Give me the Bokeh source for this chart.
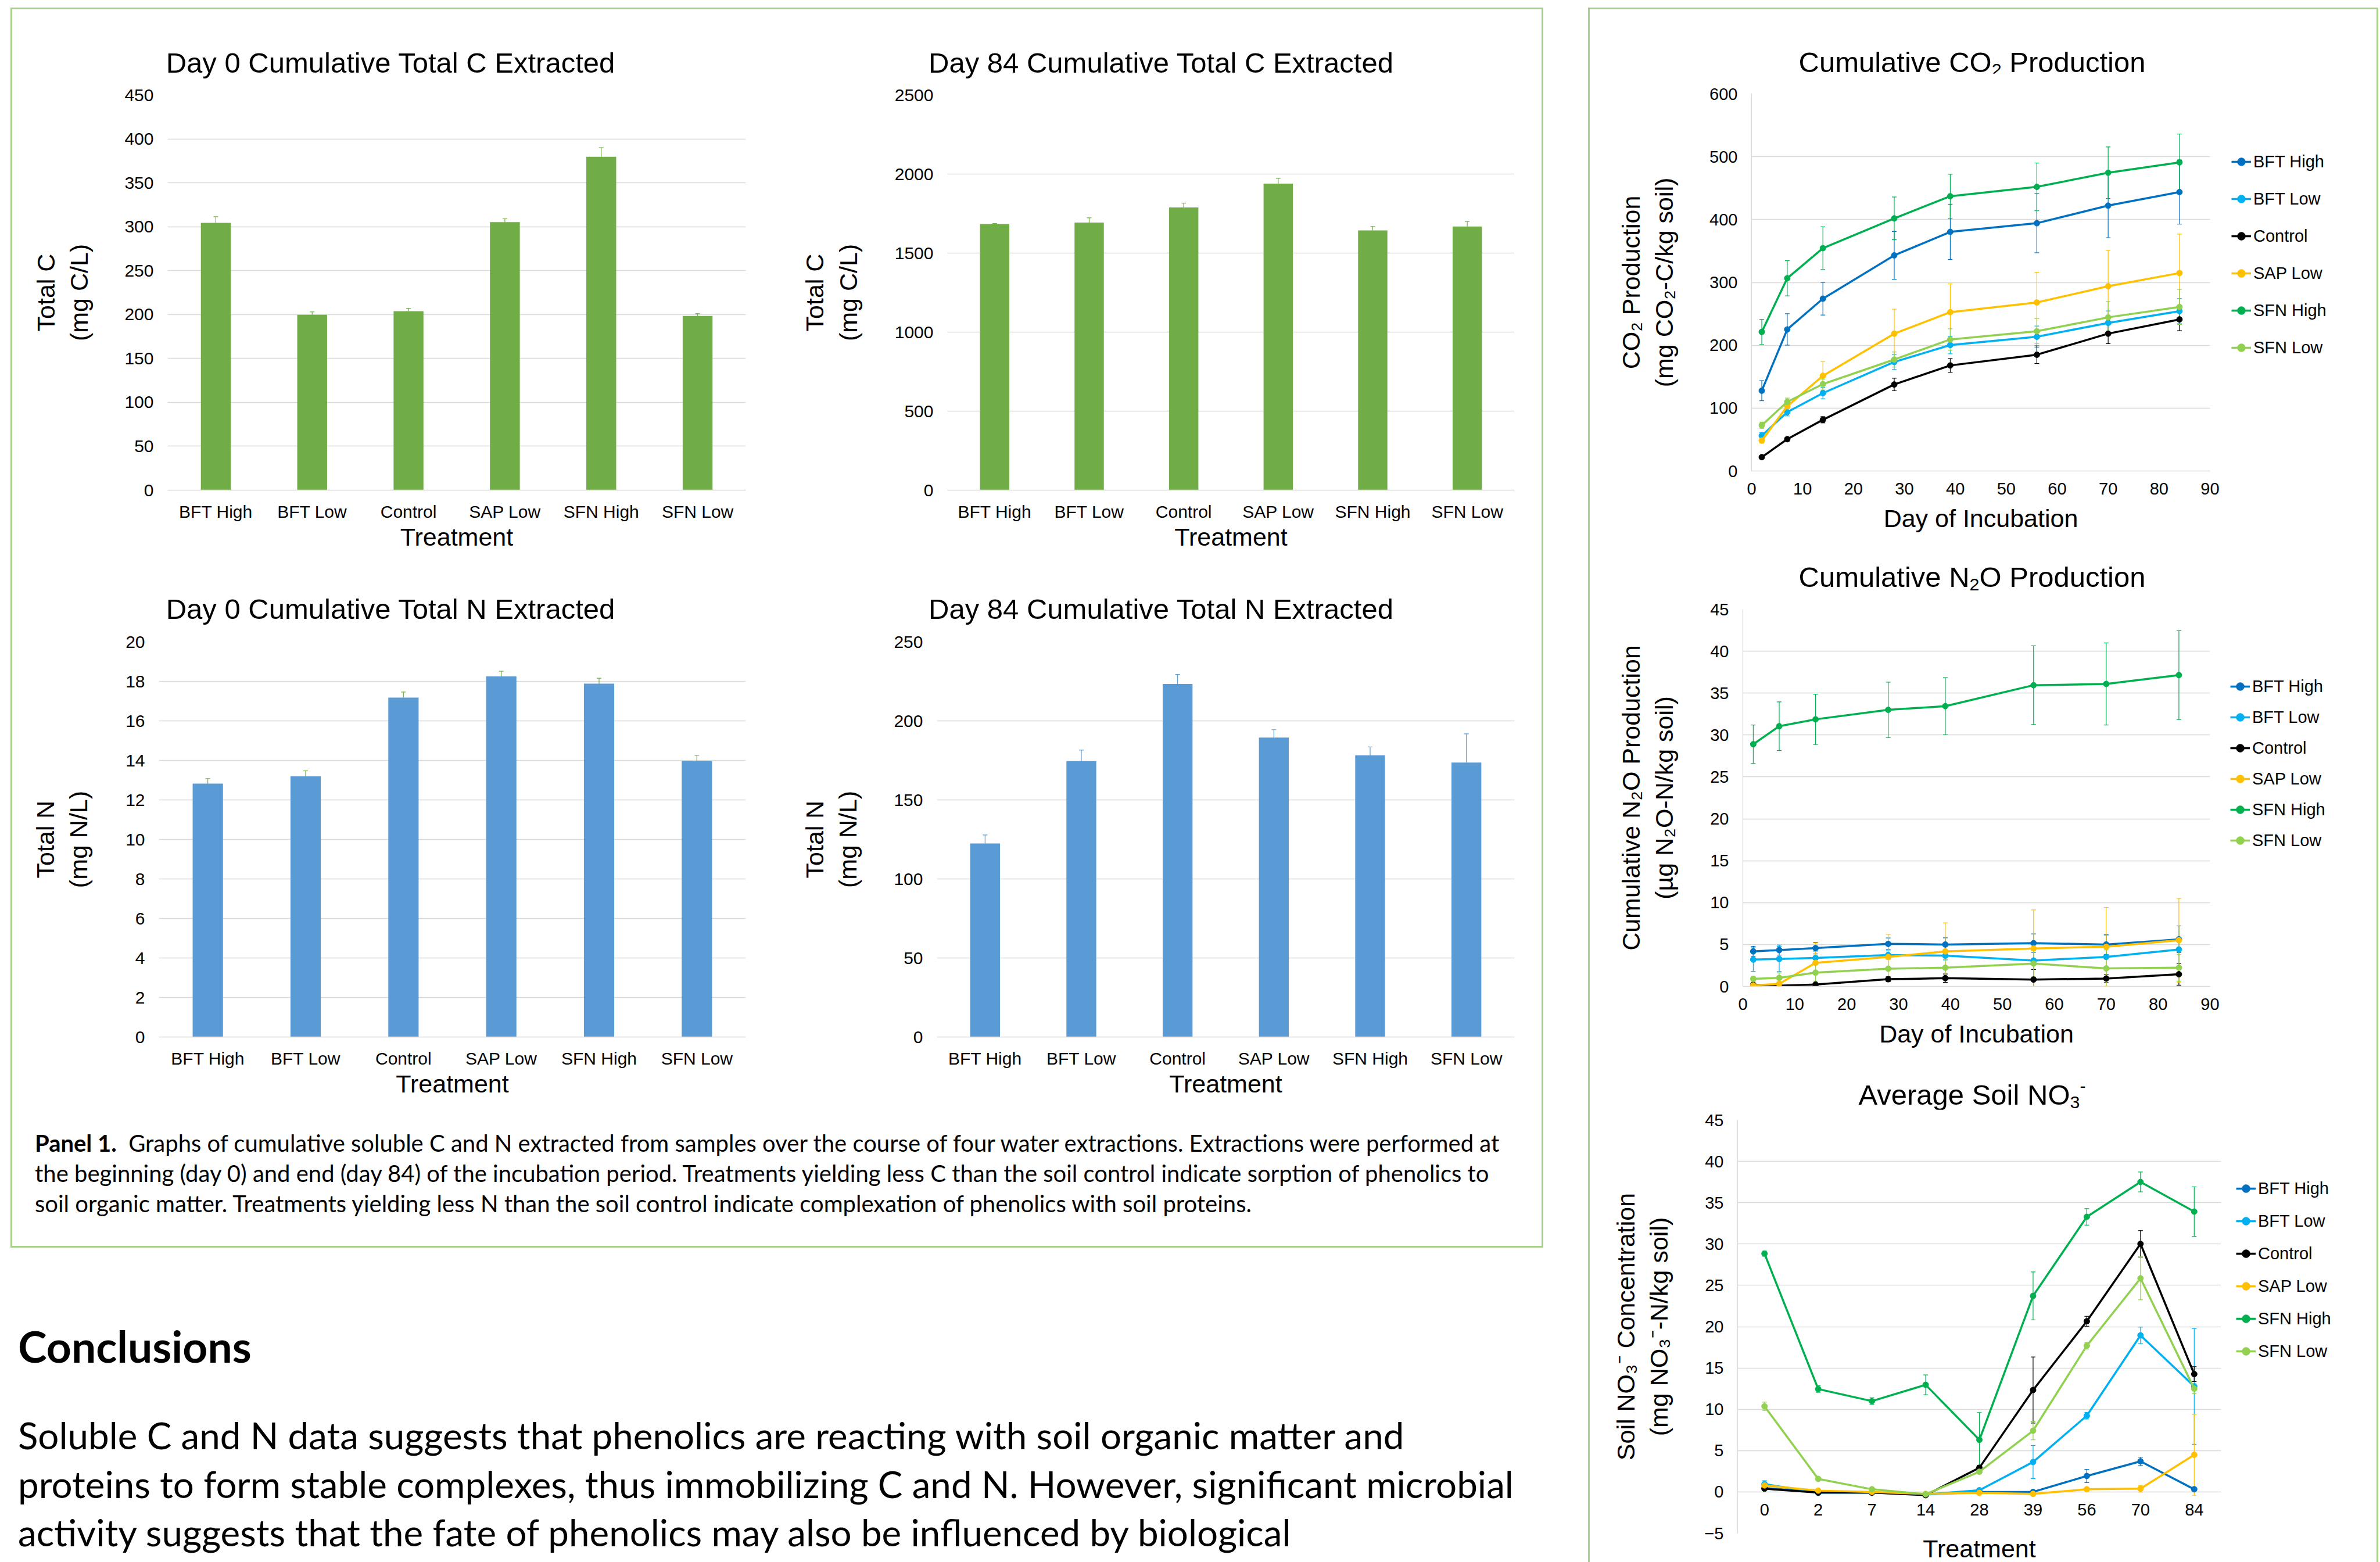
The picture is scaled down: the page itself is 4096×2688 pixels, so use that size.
from bokeh.plotting import figure
from bokeh.models import (ColumnDataSource, Whisker, TeeHead, Legend, LegendItem, Title,
                          FactorRange, Range1d, Div, Spacer, FixedTicker)
from bokeh.layouts import row, column
from bokeh.embed import file_html
from bokeh.resources import INLINE

# ---------------- data ----------------
treatments = ["BFT High", "BFT Low", "Control", "SAP Low", "SFN High", "SFN Low"]

c_day0 = [304.4, 199.7, 203.8, 305.2, 379.7, 198.4]
c_day0_err = [7.0, 3.3, 3.2, 3.8, 10.3, 2.6]
c_day84 = [1684, 1693, 1789, 1939, 1643, 1668]
c_day84_err = [3, 30, 27, 34, 25, 32]
n_day0 = [12.82, 13.19, 17.18, 18.25, 17.88, 13.96]
n_day0_err = [0.26, 0.28, 0.28, 0.26, 0.28, 0.30]
n_day84 = [122.4, 174.5, 223.3, 189.4, 178.2, 173.6]
n_day84_err = [5.4, 7.0, 6.1, 5.0, 5.3, 18.2]

series_names = ["BFT High", "BFT Low", "Control", "SAP Low", "SFN High", "SFN Low"]
series_colors = ["#0070c0", "#00b0f0", "#000000", "#ffc000", "#00b050", "#92d050"]

days = [2, 7, 14, 28, 39, 56, 70, 84]

co2_bft_high = [127.7, 225.2, 274.1, 343.0, 380.4, 394.2, 422.2, 443.7]
co2_bft_high_err = [16, 25, 26, 38, 44, 47, 51, 51]
co2_bft_low = [56.2, 93.6, 123.9, 173.4, 200.4, 213.6, 235.6, 254.3]
co2_bft_low_err = [5, 6, 9, 12, 14, 17, 19, 20]
co2_control = [22.0, 50.6, 81.5, 137.6, 167.9, 185.0, 218.5, 241.1]
co2_control_err = [2, 3, 5, 10, 11, 14, 16, 18]
co2_sap_low = [48.4, 103.0, 151.4, 218.5, 252.7, 268.1, 294.0, 314.9]
co2_sap_low_err = [4, 7, 23, 39, 45, 48, 57, 62]
co2_sfn_high = [221.3, 306.6, 354.5, 401.9, 437.1, 452.0, 474.5, 491.0]
co2_sfn_high_err = [20, 28, 34, 34, 35, 38, 41, 45]
co2_sfn_low = [72.7, 110.0, 138.2, 177.3, 209.2, 222.4, 244.4, 261.0]
co2_sfn_low_err = [5, 6, 8, 12, 17, 20, 25, 28]

n2o_bft_high = [4.18, 4.34, 4.57, 5.08, 5.0, 5.16, 5.0, 5.62]
n2o_bft_high_err = [0.6, 0.6, 0.7, 0.7, 0.8, 1.1, 1.2, 1.6]
n2o_bft_low = [3.2, 3.28, 3.4, 3.75, 3.67, 3.09, 3.52, 4.41]
n2o_bft_low_err = [1.4, 1.5, 0.8, 0.5, 0.5, 2.0, 2.6, 2.8]
n2o_control = [0.2, 0.08, 0.23, 0.86, 0.98, 0.82, 0.94, 1.45]
n2o_control_err = [0.1, 0.1, 0.1, 0.3, 0.5, 1.2, 0.5, 1.3]
n2o_sap_low = [0.12, 0.31, 2.81, 3.52, 4.18, 4.53, 4.73, 5.51]
n2o_sap_low_err = [0.1, 0.2, 2.4, 2.7, 3.4, 4.6, 4.7, 5.0]
n2o_sfn_high = [28.9, 31.05, 31.87, 33.0, 33.44, 35.94, 36.09, 37.15]
n2o_sfn_high_err = [2.3, 2.9, 3.0, 3.3, 3.4, 4.7, 4.9, 5.3]
n2o_sfn_low = [0.9, 1.02, 1.64, 2.11, 2.23, 2.73, 2.15, 2.23]
n2o_sfn_low_err = [0.3, 0.6, 1.0, 1.2, 1.2, 1.6, 2.2, 1.6]

no3_days = ["0", "2", "7", "14", "28", "39", "56", "70", "84"]
no3_bft_high = [0.47, -0.05, -0.05, -0.3, 0.0, 0.0, 1.93, 3.7, 0.32]
no3_bft_high_err = [0.2, 0.1, 0.1, 0.1, 0.1, 0.1, 0.8, 0.5, 0.2]
no3_bft_low = [0.95, -0.1, -0.1, -0.3, 0.2, 3.62, 9.22, 18.95, 12.77]
no3_bft_low_err = [0.4, 0.1, 0.1, 0.1, 0.1, 2.0, 0.4, 1.0, 7.0]
no3_control = [0.39, -0.08, -0.08, -0.39, 2.92, 12.33, 20.65, 30.02, 14.26]
no3_control_err = [0.1, 0.1, 0.1, 0.1, 0.3, 4.0, 0.6, 1.6, 0.9]
no3_sap_low = [0.79, 0.16, 0.0, -0.24, -0.12, -0.24, 0.32, 0.39, 4.49]
no3_sap_low_err = [0.1, 0.1, 0.1, 0.1, 0.1, 0.1, 0.1, 0.4, 4.9]
no3_sfn_high = [28.84, 12.45, 10.99, 12.96, 6.3, 23.72, 33.29, 37.51, 33.92]
no3_sfn_high_err = [0.3, 0.4, 0.4, 1.2, 3.3, 2.9, 1.0, 1.2, 3.0]
no3_sfn_low = [10.36, 1.58, 0.32, -0.28, 2.44, 7.41, 17.69, 25.85, 12.49]
no3_sfn_low_err = [0.5, 0.1, 0.1, 0.1, 0.2, 1.1, 0.4, 2.6, 0.6]

caption_lines = [
    "Graphs of cumulative soluble C and N extracted from samples over the course of four water extractions. Extractions were performed at",
    "the beginning (day 0) and end (day 84) of the incubation period. Treatments yielding less C than the soil control indicate sorption of phenolics to",
    "soil organic matter. Treatments yielding less N than the soil control indicate complexation of phenolics with soil proteins.",
]
conclusion_lines = [
    "Soluble C and N data suggests that phenolics are reacting with soil organic matter and",
    "proteins to form stable complexes, thus immobilizing C and N. However, significant microbial",
    "activity suggests that the fate of phenolics may also be influenced by biological",
]

# ---------------- style ----------------
FONT = "Liberation Sans"
GRID = "#d9d9d9"
BOX = "#a9d18e"
SUB = '<sub style="font-size:62%;line-height:0;vertical-align:-0.22em;">{}</sub>'
SUP = '<sup style="font-size:62%;line-height:0;vertical-align:0.7em;">{}</sup>'


def title_div(html_text, w, h, cx, cy, size=49):
    return Div(text=('<div style="position:relative;width:%dpx;height:%dpx;">'
                     '<span style="position:absolute;left:%dpx;top:%dpx;transform:translate(-50%%,-50%%);'
                     'white-space:nowrap;font-family:\'Liberation Sans\',Arial,sans-serif;font-size:%dpx;'
                     'line-height:1;color:#000;">%s</span></div>') % (w, h, cx, cy, size, html_text),
               width=w, height=h, margin=0)


def base_fig(x_range, y_range, w, h, borders, ylab, ylab_standoff, xlab, xlab_standoff, tick_size):
    bl, br, bt, bb = borders
    p = figure(x_range=x_range, y_range=y_range, width=w, height=h,
               min_border_left=bl, min_border_right=br, min_border_top=bt, min_border_bottom=bb,
               output_backend="svg", toolbar_location=None)
    p.outline_line_color = None
    p.xgrid.grid_line_color = None
    p.ygrid.grid_line_color = GRID
    p.ygrid.grid_line_width = 1.3
    for ax in (p.xaxis[0], p.yaxis[0]):
        ax.major_tick_line_color = None
        ax.minor_tick_line_color = None
        ax.major_tick_out = 0
        ax.major_tick_in = 0
        ax.minor_tick_out = 0
        ax.minor_tick_in = 0
        ax.major_label_text_font = FONT
        ax.major_label_text_color = "black"
        ax.major_label_text_font_size = tick_size
        ax.axis_label_text_font = FONT
        ax.axis_label_text_font_size = "43px"
        ax.axis_label_text_font_style = "normal"
        ax.axis_label_text_color = "black"
    p.yaxis.major_label_standoff = 24
    p.xaxis.major_label_standoff = 20
    p.yaxis.axis_line_color = None
    p.xaxis.axis_line_color = GRID
    p.xaxis.axis_line_width = 1.3
    p.yaxis.axis_label = ylab
    p.yaxis.axis_label_standoff = ylab_standoff
    p.xaxis.axis_label = xlab
    p.xaxis.axis_label_standoff = xlab_standoff
    return p


def bar_chart(vals, errs, ymax, ystep, bar_color, err_color, both, w, h, borders,
              ylab, ylab_standoff):
    p = base_fig(FactorRange(factors=treatments, range_padding=0), Range1d(0, ymax), w, h, borders,
                 ylab, ylab_standoff, "Treatment", 0, "30px")
    p.yaxis.ticker = FixedTicker(ticks=list(range(0, ymax + 1, ystep)))
    src = ColumnDataSource(dict(cat=treatments, val=vals,
                                upper=[v + e for v, e in zip(vals, errs)],
                                lower=[v - e for v, e in zip(vals, errs)] if both else list(vals)))
    p.vbar(x="cat", top="val", width=0.31, source=src, fill_color=bar_color, line_color=None)
    p.add_layout(Whisker(source=src, base="cat", upper="upper", lower="lower",
                         line_color=err_color, line_width=1.2,
                         upper_head=TeeHead(size=8, line_color=err_color, line_width=1.2),
                         lower_head=TeeHead(size=8, line_color=err_color, line_width=1.2) if both else None))
    return p


def line_chart(x_range, xvals, yr, yticks, series, w, h, borders, ylab, ylab_standoff,
               xlab, xlab_standoff, categorical=False):
    p = base_fig(x_range, yr, w, h, borders, ylab, ylab_standoff, xlab, xlab_standoff, "29px")
    p.yaxis.ticker = FixedTicker(ticks=yticks)
    p.yaxis.axis_line_color = GRID
    p.yaxis.axis_line_width = 1.3
    if not categorical:
        p.xaxis.ticker = FixedTicker(ticks=list(range(0, 91, 10)))
    sources = []
    for name, color, vals, errs in series:
        src = ColumnDataSource(dict(x=xvals, y=vals,
                                    upper=[v + e for v, e in zip(vals, errs)],
                                    lower=[v - e for v, e in zip(vals, errs)]))
        p.line("x", "y", source=src, line_color=color, line_width=3.5)
        p.scatter("x", "y", source=src, size=10, fill_color=color, line_color=color)
        p.add_layout(Whisker(source=src, base="x", upper="upper", lower="lower", dimension="height",
                             line_color=color, line_width=1.2,
                             upper_head=TeeHead(size=8, line_color=color, line_width=1.2),
                             lower_head=TeeHead(size=8, line_color=color, line_width=1.2)))
        sources.append((name, color, src))
    return p, sources


def legend_fig(sources, x_range, w, h, loc, spacing):
    # legend panel: its frame is aligned with the chart frame in the same row;
    # the series glyphs lie outside its (far-away) y range, so only the legend shows
    lp = figure(width=w, height=h, x_range=x_range, y_range=Range1d(100000, 100001),
                x_axis_type=None, y_axis_type=None, min_border=0,
                output_backend="svg", toolbar_location=None)
    lp.outline_line_color = None
    lp.grid.visible = False
    items = []
    for name, color, src in sources:
        r1 = lp.line("x", "y", source=src, line_color=color, line_width=3.5)
        r2 = lp.scatter("x", "y", source=src, size=10, fill_color=color, line_color=color)
        items.append(LegendItem(label=name, renderers=[r1, r2]))
    lp.add_layout(Legend(items=items, location=loc, orientation="vertical",
                         label_text_font=FONT, label_text_font_size="29px", label_text_color="black",
                         glyph_width=34, glyph_height=34, label_height=34, label_standoff=4,
                         spacing=spacing, padding=0, margin=0,
                         border_line_color=None, background_fill_alpha=0))
    return lp


# ---------------- bar charts ----------------
f1 = bar_chart(c_day0, c_day0_err, 450, 50, "#70ad47", "#70ad47", False, 1316, 826,
               (267, 54, 27, 119), "Total C\n(mg C/L)", 51)
f2 = bar_chart(c_day84, c_day84_err, 2500, 500, "#70ad47", "#70ad47", False, 1316, 826,
               (293, 47, 27, 119), "Total C\n(mg C/L)", 53)
f3 = bar_chart(n_day0, n_day0_err, 20, 2, "#5b9bd5", "#70ad47", True, 1316, 835,
               (252, 54, 22, 133), "Total N\n(mg N/L)", 54)
f4 = bar_chart(n_day84, n_day84_err, 250, 50, "#5b9bd5", "#5b9bd5", False, 1316, 835,
               (275, 47, 22, 133), "Total N\n(mg N/L)", 52)

t1 = title_div("Day 0 Cumulative Total C Extracted", 1316, 120, 651, 92)
t2 = title_div("Day 84 Cumulative Total C Extracted", 1316, 120, 661, 92)
t3 = title_div("Day 0 Cumulative Total N Extracted", 1316, 120, 651, 86)
t4 = title_div("Day 84 Cumulative Total N Extracted", 1316, 120, 661, 86)

# ---------------- line charts ----------------
co2_series = list(zip(series_names, series_colors,
                      [co2_bft_high, co2_bft_low, co2_control, co2_sap_low, co2_sfn_high, co2_sfn_low],
                      [co2_bft_high_err, co2_bft_low_err, co2_control_err, co2_sap_low_err,
                       co2_sfn_high_err, co2_sfn_low_err]))
n2o_series = list(zip(series_names, series_colors,
                      [n2o_bft_high, n2o_bft_low, n2o_control, n2o_sap_low, n2o_sfn_high, n2o_sfn_low],
                      [n2o_bft_high_err, n2o_bft_low_err, n2o_control_err, n2o_sap_low_err,
                       n2o_sfn_high_err, n2o_sfn_low_err]))
no3_series = list(zip(series_names, series_colors,
                      [no3_bft_high, no3_bft_low, no3_control, no3_sap_low, no3_sfn_high, no3_sfn_low],
                      [no3_bft_high_err, no3_bft_low_err, no3_control_err, no3_sap_low_err,
                       no3_sfn_high_err, no3_sfn_low_err]))

f5, s5 = line_chart(Range1d(0, 90), days, Range1d(0, 600), list(range(0, 601, 100)), co2_series,
                    1097, 808, (278, 30, 35, 124),
                    "CO\u2082 Production\n(mg CO\u2082-C/kg soil)", 51, "Day of Incubation", 14)
l5 = legend_fig(s5, Range1d(0, 90), 257, 808, (7, 195), 30)

f6, s6 = line_chart(Range1d(0, 90), days, Range1d(0, 45), list(range(0, 46, 5)), n2o_series,
                    1097, 805, (263, 30, 24, 132),
                    "Cumulative N\u2082O Production\n(\u00b5g N\u2082O-N/kg soil)", 52, "Day of Incubation", 14)
l6 = legend_fig(s6, Range1d(0, 90), 257, 805, (5, 234), 19)

f7, s7 = line_chart(FactorRange(factors=no3_days, range_padding=0), no3_days, Range1d(-5, 45),
                    list(range(-5, 46, 5)), no3_series,
                    1108, 779, (254, 22, 18, 46),
                    "Soil NO\u2083\u207b Concentration\n(mg NO\u2083\u207b-N/kg soil)", 51, None, 0,
                    categorical=True)
f7.xaxis.fixed_location = 0
f7.xaxis.axis_line_color = None
f7.xaxis.major_label_standoff = 21
f7.add_layout(Title(text="Treatment", align="center", text_font=FONT, text_font_size="43px",
                    text_font_style="normal", text_color="black", standoff=0, offset=0), "below")
l7 = legend_fig(s7, FactorRange(factors=no3_days, range_padding=0), 246, 779, (4, 296), 22)

t5 = title_div("Cumulative CO" + SUB.format("2") + " Production", 1354, 110, 658, 91)
t6 = title_div("Cumulative N" + SUB.format("2") + "O Production", 1354, 90, 658, 59)
t7 = title_div("Average Soil NO" + SUB.format("3") + SUP.format("-"), 1354, 80, 658, 55)

# ---------------- text blocks ----------------
cap_html = ('<div style="font-family:Lato,sans-serif; font-size:40px; line-height:52px; color:#000; '
            'padding:24px 0 0 39px; white-space:nowrap;">'
            '<b>Panel 1.</b>&nbsp; ' + caption_lines[0] + '<br>' + caption_lines[1] + '<br>' +
            caption_lines[2] + '</div>')
caption = Div(text=cap_html, width=2632, height=227, margin=0)

concl_html = ('<div style="font-family:Lato,sans-serif; color:#000; padding:124px 0 0 13px; white-space:nowrap;">'
              '<div style="font-size:75px; font-weight:bold; line-height:90px;">Conclusions</div>'
              '<div style="font-size:63.7px; line-height:83.5px; margin-top:67px;">' +
              '<br>'.join(conclusion_lines) + '</div></div>')
conclusions = Div(text=concl_html, width=2638, height=540, margin=0)


def vline(hgt):
    return Div(text="", width=3, height=hgt, margin=0, styles={"background-color": BOX})


def hline(wid):
    return Div(text="", width=wid, height=3, margin=0, styles={"background-color": BOX})


left_box = row(vline(2134),
               column(hline(2632),
                      row(column(t1, f1), column(t2, f2)),
                      row(column(t3, f3), column(t4, f4)),
                      caption, hline(2632)),
               vline(2134))
right_box = row(vline(2675),
                column(hline(1354),
                       column(t5, row(f5, l5)),
                       column(t6, row(f6, l6)),
                       column(t7, row(f7, l7))),
                vline(2675))

root = column(Spacer(height=13),
              row(Spacer(width=18), column(left_box, conclusions), Spacer(width=77), right_box))

open("out.html", "w").write(file_html(root, INLINE))
